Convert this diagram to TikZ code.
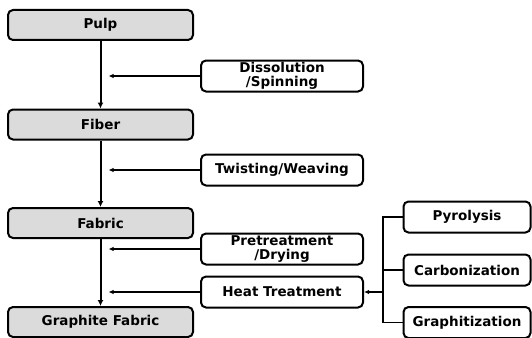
\documentclass[tikz,border=0pt]{standalone}
\usepackage{fontspec}
\setmainfont{DejaVu Sans}
\usetikzlibrary{arrows.meta}

\begin{document}
\begin{tikzpicture}[x=1pt, y=-1pt,
    mainbox/.style={draw, line width=2pt, rounded corners=5pt, fill=gray!28,
        minimum width=185pt, minimum height=30pt, font=\bfseries\fontsize{13.5}{15}\selectfont},
    sidebox/.style={draw, line width=2pt, rounded corners=5pt, fill=white,
        minimum width=162pt, minimum height=31pt, align=center, inner sep=1pt,
        font=\bfseries\fontsize{13.5}{14.5}\selectfont},
    stepnode/.style={sidebox, minimum width=127pt},
    flow/.style={line width=2pt, -{Latex[length=6pt,width=6pt]}},
    feed/.style={line width=1.4pt, -{Latex[length=5pt,width=4.5pt]}}]
    \useasboundingbox (0,0) rectangle (532,337);

    \node[mainbox] (pulp)     at (100.5, 25)  {Pulp};
    \node[mainbox] (fiber)    at (100.5, 124.5) {Fiber};
    \node[mainbox] (fabric)   at (100.5, 223) {Fabric};
    \node[mainbox] (graphite) at (100.5, 322) {Graphite Fabric};

    \node[sidebox] (spin)  at (282, 76)  {Dissolution\\/Spinning};
    \node[sidebox] (weave) at (282, 170)   {Twisting/Weaving};
    \node[sidebox] (dry)   at (282, 249) {Pretreatment\\/Drying};
    \node[sidebox] (heat)  at (282, 292)   {Heat Treatment};

    \node[stepnode] (pyro)  at (467, 217)   {Pyrolysis};
    \node[stepnode] (carb)  at (467, 270)   {Carbonization};
    \node[stepnode] (graph) at (467, 322.5) {Graphitization};

    \draw[flow] (pulp) -- (fiber);
    \draw[flow] (fiber) -- (fabric);
    \draw[flow] (fabric) -- (graphite);

    \draw[feed] (spin.west)  -- ([xshift=8pt]spin.west -| pulp.south);
    \draw[feed] (weave.west) -- ([xshift=8pt]weave.west -| pulp.south);
    \draw[feed] (dry.west)   -- ([xshift=8pt]dry.west -| pulp.south);
    \draw[feed] (heat.west)  -- ([xshift=8pt]heat.west -| pulp.south);

    % bracket of heat treatment steps
    \coordinate (join) at (383, 292);
    \draw[line width=1.6pt] (pyro.west) -| (join |- graph.west) -- (graph.west);
    \draw[line width=1.6pt] (carb.west) -- (join |- carb.west);
    \draw[feed] (join) -- (heat.east);
\end{tikzpicture}
\end{document}
